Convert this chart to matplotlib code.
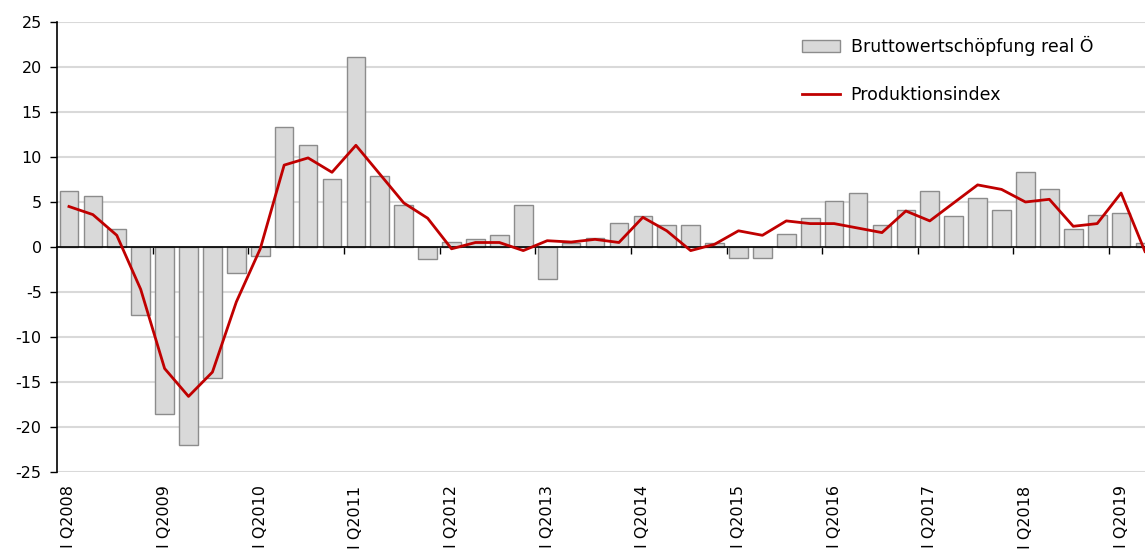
import numpy as np
import matplotlib
matplotlib.use('Agg')
from matplotlib import pyplot as plt

plt.rcParams['font.family'] = ['DejaVu Sans']
plt.rcParams['axes.unicode_minus'] = False

# Quarters I Q2008 .. II Q2019
years = list(range(2008, 2020))
tick_labels = ['I Q%d' % y for y in years]

# Bruttowertschöpfung real Ö (bars)
bws = [6.2, 5.7, 2.0, -7.5, -18.6, -22.0, -14.5, -2.9,
       -1.0, 13.3, 11.3, 7.6, 21.1, 7.9, 4.7, -1.3,
       0.6, 0.9, 1.3, 4.7, -3.5, 0.5, 1.0, 2.7,
       3.5, 2.4, 2.4, 0.4, -1.2, -1.2, 1.4, 3.2,
       5.1, 6.0, 2.4, 4.1, 6.2, 3.5, 5.4, 4.1,
       8.3, 6.5, 2.0, 3.6, 3.8, 0.5]

# Produktionsindex (line)
prod = [4.5, 3.6, 1.3, -4.7, -13.5, -16.6, -13.9, -6.1,
        -0.2, 9.1, 9.9, 8.3, 11.3, 8.1, 4.9, 3.2,
        -0.2, 0.5, 0.5, -0.4, 0.7, 0.55, 0.85, 0.5,
        3.3, 1.8, -0.4, 0.3, 1.8, 1.3, 2.9, 2.6,
        2.6, 2.1, 1.6, 4.0, 2.9, 4.9, 6.9, 6.4,
        5.0, 5.3, 2.3, 2.6, 6.0, -0.5]

x = np.arange(len(bws))

fig = plt.figure(figsize=(11.45, 5.5), dpi=100)
ax = fig.add_axes([57/1145, 1 - 472/550, 1 - 57/1145, 450/550])

ax.set_axisbelow(True)
ax.yaxis.grid(True, color='#d9d9d9', linewidth=1.5)

bars = ax.bar(x, bws, width=0.78, color='#d9d9d9', edgecolor='#8c8c8c', linewidth=1.0,
              label='Bruttowertschöpfung real Ö', zorder=2)
line, = ax.plot(x, prod, color='#c00000', linewidth=2.0, label='Produktionsindex', zorder=3)

ax.set_xlim(-0.5, 45.0)
ax.set_ylim(-25, 25)
ax.set_yticks(np.arange(-25, 26, 5))
ax.tick_params(axis='y', length=5, width=1, labelsize=11.5, pad=6, color='black')

# x axis line at zero with ticks between the years
ax.spines['bottom'].set_position(('data', 0))
ax.spines['top'].set_visible(False)
ax.spines['right'].set_visible(False)
ax.spines['left'].set_linewidth(1.2)
ax.spines['bottom'].set_linewidth(1.2)
ax.set_xticks(np.arange(3.5, len(bws), 4))
ax.set_xticklabels([])
ax.tick_params(axis='x', direction='out', length=5, width=1)

for i, lab in enumerate(tick_labels):
    ax.text(i * 4, -0.03, lab, transform=ax.get_xaxis_transform(),
            rotation=90, ha='center', va='top', fontsize=11.5, clip_on=False)

leg = ax.legend([bars, line], ['Bruttowertschöpfung real Ö', 'Produktionsindex'],
                loc='upper left', bbox_to_anchor=(795/1145, 1 - 29/550),
                bbox_transform=fig.transFigure, frameon=False, fontsize=12.5,
                handlelength=2.2, handletextpad=0.6, labelspacing=1.75,
                borderaxespad=0)

fig.savefig('out.png', dpi=100)
